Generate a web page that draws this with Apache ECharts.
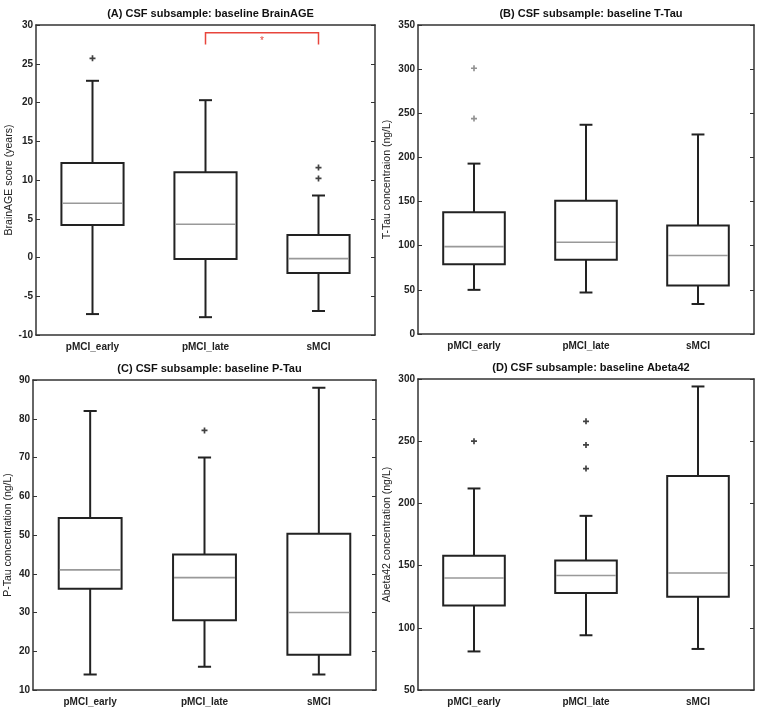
<!DOCTYPE html>
<html>
<head>
<meta charset="utf-8">
<script src="https://cdn.jsdelivr.net/npm/echarts@6/dist/echarts.min.js"></script>
<style>
html,body{margin:0;padding:0;background:#fff;}
#chart{width:759px;height:709px;}
</style>
</head>
<body>
<div id="chart"></div>
<script>
// ---- Data ----
const categories = ['pMCI_early', 'pMCI_late', 'sMCI'];

// each box: [lowerWhisker, Q1, median, Q3, upperWhisker]
const brainAgeBoxes = [
  [-7.3, 4.2, 7.0, 12.2, 22.8],
  [-7.7, -0.2, 4.3, 11.0, 20.3],
  [-6.9, -2.0, -0.15, 2.9, 8.0]
];
const brainAgeOutliers = [[0, 25.7], [2, 11.6], [2, 10.2]];

const tTauBoxes = [
  [50, 79, 99, 138, 193],
  [47, 84, 104, 151, 237],
  [34, 55, 89, 123, 226]
];
const tTauOutliers = [[0, 301], [0, 244]];

const pTauBoxes = [
  [14, 36.1, 41, 54.4, 82],
  [16, 28, 39, 45, 70],
  [14, 19.1, 30, 50.3, 88]
];
const pTauOutliers = [[1, 77]];

const abetaBoxes = [
  [81, 118, 140, 158, 212],
  [94, 128, 142, 154, 190],
  [83, 125, 144, 222, 294]
];
const abetaOutliers = [[0, 250], [1, 266], [1, 247], [1, 228]];

// significance bracket in panel A: between category indices, at y levels
const sigFrom = 1, sigTo = 2, sigTop = 29, sigBottom = 27.5, sigLabel = '*';

const panelTitles = [
  '(A) CSF subsample: baseline BrainAGE',
  '(B) CSF subsample: baseline T-Tau',
  '(C) CSF subsample: baseline P-Tau',
  '(D) CSF subsample: baseline Abeta42'
];
const yNames = [
  'BrainAGE score (years)',
  'T-Tau concentraion (ng/L)',
  'P-Tau concentration (ng/L)',
  'Abeta42 concentration (ng/L)'
];
const yRanges = [[-10, 30, 5], [0, 350, 50], [10, 90, 10], [50, 300, 50]];

// ---- Layout ----
const grids = [
  {left: 36, top: 25, width: 339, height: 310},
  {left: 418, top: 25, width: 336, height: 309},
  {left: 33, top: 380, width: 343, height: 310},
  {left: 418, top: 379, width: 336, height: 311}
];
const nameGaps = [21, 25, 19, 25];
const boxesAll = [brainAgeBoxes, tTauBoxes, pTauBoxes, abetaBoxes];
const outliersAll = [brainAgeOutliers, tTauOutliers, pTauOutliers, abetaOutliers];
const outlierColors = ['#111', '#777', '#111', '#111'];

const FONT = '"Liberation Sans", Arial, sans-serif';
const DARK = '#222';
const lineColor = '#333';

const plusPath = 'path://M3.6,0h2.8v3.6h3.6v2.8h-3.6v3.6h-2.8v-3.6h-3.6v-2.8h3.6z';

const xAxes = [], yAxes = [], series = [], titles = [];

grids.forEach((g, i) => {
  titles.push({
    text: panelTitles[i],
    left: g.left + g.width / 2,
    top: g.top - 22,
    textAlign: 'center',
    textStyle: {fontFamily: FONT, fontSize: 11, fontWeight: 'bold', color: '#111'}
  });
  // bottom x axis
  xAxes.push({
    type: 'category', gridIndex: i, data: categories, position: 'bottom',
    axisLine: {onZero: false, lineStyle: {color: lineColor, width: 1.5}},
    axisTick: {inside: true, alignWithLabel: true, length: 4, lineStyle: {color: lineColor, width: 1}},
    axisLabel: {fontFamily: FONT, fontSize: 10, fontWeight: 'bold', color: DARK, margin: 7},
    splitLine: {show: false}
  });
  // top x axis (mirror)
  xAxes.push({
    type: 'category', gridIndex: i, data: categories, position: 'top',
    axisLine: {onZero: false, lineStyle: {color: lineColor, width: 1.5}},
    axisTick: {inside: true, alignWithLabel: true, length: 4, lineStyle: {color: lineColor, width: 1}},
    axisLabel: {show: false}, splitLine: {show: false}
  });
  const r = yRanges[i];
  yAxes.push({
    type: 'value', gridIndex: i, min: r[0], max: r[1], interval: r[2], position: 'left',
    name: yNames[i], nameLocation: 'middle', nameGap: nameGaps[i],
    nameTextStyle: {fontFamily: FONT, fontSize: 10.5, color: DARK},
    axisLine: {show: true, onZero: false, lineStyle: {color: lineColor, width: 1.5}},
    axisTick: {show: true, inside: true, length: 4, lineStyle: {color: lineColor, width: 1}},
    axisLabel: {fontFamily: FONT, fontSize: 10, fontWeight: 'bold', color: DARK, margin: 3},
    splitLine: {show: false}
  });
  yAxes.push({
    type: 'value', gridIndex: i, min: r[0], max: r[1], interval: r[2], position: 'right',
    axisLine: {show: true, onZero: false, lineStyle: {color: lineColor, width: 1.5}},
    axisTick: {show: true, inside: true, length: 4, lineStyle: {color: lineColor, width: 1}},
    axisLabel: {show: false}, splitLine: {show: false}
  });

  const boxData = boxesAll[i].map((b, k) => [k].concat(b));
  series.push({
    type: 'custom',
    xAxisIndex: i * 2, yAxisIndex: i * 2,
    data: boxData,
    encode: {x: 0, y: [1, 2, 3, 4, 5]},
    z: 3,
    renderItem: function (params, api) {
      const x = api.value(0);
      const band = api.size([1, 0])[0];
      const bw = band * 0.55;
      const cw = band * 0.115;
      const pMin = api.coord([x, api.value(1)]);
      const pQ1 = api.coord([x, api.value(2)]);
      const pMed = api.coord([x, api.value(3)]);
      const pQ3 = api.coord([x, api.value(4)]);
      const pMax = api.coord([x, api.value(5)]);
      const cx = pMin[0];
      const st = {stroke: '#222', lineWidth: 2, fill: null};
      return {
        type: 'group',
        children: [
          {type: 'line', shape: {x1: cx, y1: pQ3[1], x2: cx, y2: pMax[1]}, style: st},
          {type: 'line', shape: {x1: cx, y1: pQ1[1], x2: cx, y2: pMin[1]}, style: st},
          {type: 'line', shape: {x1: cx - cw / 2, y1: pMax[1], x2: cx + cw / 2, y2: pMax[1]}, style: st},
          {type: 'line', shape: {x1: cx - cw / 2, y1: pMin[1], x2: cx + cw / 2, y2: pMin[1]}, style: st},
          {type: 'rect', shape: {x: cx - bw / 2, y: pQ3[1], width: bw, height: pQ1[1] - pQ3[1]},
            style: {stroke: '#222', lineWidth: 2, fill: '#fff'}},
          {type: 'line', shape: {x1: cx - bw / 2 + 1, y1: pMed[1], x2: cx + bw / 2 - 1, y2: pMed[1]},
            style: {stroke: '#999', lineWidth: 1.6}}
        ]
      };
    }
  });
  series.push({
    type: 'scatter',
    xAxisIndex: i * 2, yAxisIndex: i * 2,
    data: outliersAll[i],
    symbol: plusPath, symbolSize: 6,
    itemStyle: {color: outlierColors[i]},
    z: 4
  });
});

// significance bracket (panel A)
series.push({
  type: 'custom',
  xAxisIndex: 0, yAxisIndex: 0,
  data: [[sigFrom, sigTo, sigTop, sigBottom]],
  encode: {x: [0, 1], y: [2, 3]},
  z: 5,
  renderItem: function (params, api) {
    const a = api.coord([api.value(0), api.value(2)]);
    const b = api.coord([api.value(1), api.value(2)]);
    const aB = api.coord([api.value(0), api.value(3)]);
    const mid = api.coord([api.value(0), (api.value(2) + api.value(3)) / 2]);
    return {
      type: 'group',
      children: [
        {type: 'polyline', shape: {points: [[aB[0], aB[1]], [a[0], a[1]], [b[0], b[1]], [b[0], aB[1]]]},
          style: {stroke: '#e8453c', lineWidth: 1.5, fill: null}},
        {type: 'text', style: {text: sigLabel, x: (a[0] + b[0]) / 2, y: mid[1] + 3, align: 'center', verticalAlign: 'middle',
          font: '10px ' + FONT, fill: '#e8453c'}}
      ]
    };
  }
});

const chart = echarts.init(document.getElementById('chart'), null, {renderer: 'canvas'});
chart.setOption({
  animation: false,
  backgroundColor: '#fff',
  title: titles,
  grid: grids,
  xAxis: xAxes,
  yAxis: yAxes,
  series: series
});
</script>
</body>
</html>
